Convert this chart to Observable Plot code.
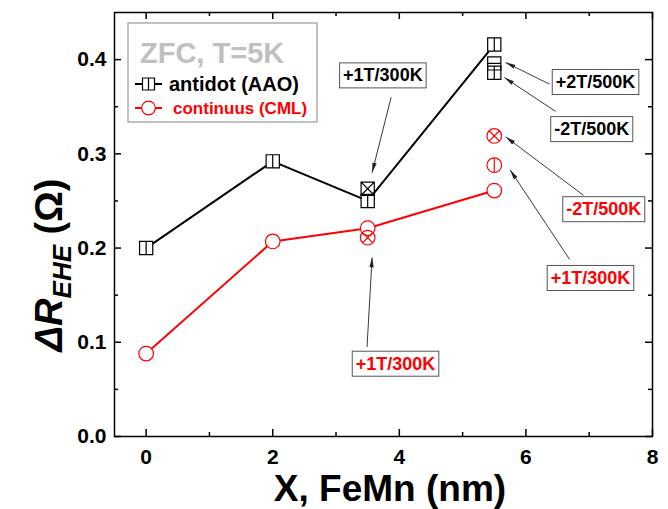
<!DOCTYPE html>
<html><head><meta charset="utf-8">
<script src="https://cdn.jsdelivr.net/npm/d3@7"></script>
<script src="https://cdn.jsdelivr.net/npm/@observablehq/plot@0.6"></script>
<style>body{margin:0;background:#fff}#chart{position:relative;width:668px;height:509px}</style>
</head><body><div id="chart"></div>
<script>
// ---- data ----
const thickness = [0, 2, 3.5, 5.5];
const antidot = [0.200, 0.292, 0.250, 0.416];
const continuus = [0.088, 0.207, 0.221, 0.261];

const extraThickness = [3.5, 5.5, 5.5, 3.5, 5.5, 5.5];
const extraValues = [0.263, 0.396, 0.386, 0.211, 0.288, 0.319];
const extraSeries = ["antidot", "antidot", "antidot", "continuus", "continuus", "continuus"];
const extraShape = ["squareX", "squareH", "squareV", "circleX", "circleV", "circleX"];

const annLabels = ["+1T/300K", "+2T/500K", "-2T/500K", "-2T/500K", "+1T/300K", "+1T/300K"];
const annSeries = ["antidot", "antidot", "antidot", "continuus", "continuus", "continuus"];
const annX = [3.74, 7.10, 7.04, 7.23, 7.02, 3.94];
const annY = [0.383, 0.376, 0.326, 0.241, 0.168, 0.077];

const arrowX1 = [3.87, 6.37, 6.47, 6.91, 6.69, 3.49];
const arrowY1 = [0.360, 0.374, 0.345, 0.256, 0.188, 0.095];
const arrowX2 = [3.57, 5.68, 5.66, 5.68, 5.75, 3.57];
const arrowY2 = [0.280, 0.397, 0.381, 0.318, 0.283, 0.190];

const xTicks = [0, 2, 4, 6, 8];
const xMinor = [1, 3, 5, 7];
const yTicks = [0, 0.1, 0.2, 0.3, 0.4];
const yMinor = [0.05, 0.15, 0.25, 0.35];

const seriesColor = {antidot: "#000000", continuus: "#ff0000"};

// ---- symbols ----
const rad = s => Math.sqrt(s / Math.PI);
function sq(c, r) { c.moveTo(-r, -r); c.lineTo(r, -r); c.lineTo(r, r); c.lineTo(-r, r); c.closePath(); }
function ci(c, r) { c.moveTo(r, 0); c.arc(0, 0, r, 0, 2 * Math.PI); c.closePath(); }
const shapes = {
  squareV: {draw(c, s) { const r = rad(s); sq(c, r); c.moveTo(0, -r); c.lineTo(0, r); }},
  squareH: {draw(c, s) { const r = rad(s); sq(c, r); c.moveTo(-r, 0); c.lineTo(r, 0); }},
  squareX: {draw(c, s) { const r = rad(s); sq(c, r); c.moveTo(-r, -r); c.lineTo(r, r); c.moveTo(-r, r); c.lineTo(r, -r); }},
  circle: {draw(c, s) { const r = rad(s); ci(c, r); }},
  circleV: {draw(c, s) { const r = rad(s); ci(c, r); c.moveTo(0, -r); c.lineTo(0, r); }},
  circleX: {draw(c, s) { const r = rad(s); ci(c, r); const d = r / Math.SQRT2; c.moveTo(-d, -d); c.lineTo(d, d); c.moveTo(-d, d); c.lineTo(d, -d); }}
};

// ---- tables ----
const mainA = thickness.map((x, i) => ({x, y: antidot[i]}));
const mainC = thickness.map((x, i) => ({x, y: continuus[i]}));
const extras = extraThickness.map((x, i) => ({x, y: extraValues[i], series: extraSeries[i], shape: extraShape[i]}));
const anns = annLabels.map((t, i) => ({text: t, series: annSeries[i], x: annX[i], y: annY[i]}));
const arrows = arrowX1.map((x1, i) => ({x1, y1: arrowY1[i], x2: arrowX2[i], y2: arrowY2[i]}));

function filledArrow(color) {
  const m = d3.create("svg:marker")
    .attr("viewBox", "-5 -5 10 10").attr("markerWidth", 10).attr("markerHeight", 10)
    .attr("orient", "auto").attr("markerUnits", "userSpaceOnUse").attr("refX", 5).attr("refY", 0);
  m.append("path").attr("d", "M-5,-2.2L5,0L-5,2.2Z").attr("fill", color).attr("stroke", "none");
  return m.node();
}

const W = 668, H = 509, ML = 114, MR = 16, MT = 12, MB = 73;
const PW = W - ML - MR, PH = H - MT - MB;

const marks = [
  Plot.frame({stroke: "black", strokeWidth: 1.5}),
  // inward ticks on all four sides
  Plot.tickX(xTicks, {x: d => d, insetTop: PH - 7, stroke: "black", strokeWidth: 1.5}),
  Plot.tickX(xTicks, {x: d => d, insetBottom: PH - 7, stroke: "black", strokeWidth: 1.5}),
  Plot.tickX(xMinor, {x: d => d, insetTop: PH - 4, stroke: "black", strokeWidth: 1.5}),
  Plot.tickX(xMinor, {x: d => d, insetBottom: PH - 4, stroke: "black", strokeWidth: 1.5}),
  Plot.tickY(yTicks, {y: d => d, insetRight: PW - 7, stroke: "black", strokeWidth: 1.5}),
  Plot.tickY(yTicks, {y: d => d, insetLeft: PW - 7, stroke: "black", strokeWidth: 1.5}),
  Plot.tickY(yMinor, {y: d => d, insetRight: PW - 4, stroke: "black", strokeWidth: 1.5}),
  Plot.tickY(yMinor, {y: d => d, insetLeft: PW - 4, stroke: "black", strokeWidth: 1.5}),
  Plot.axisX(xTicks, {tickSize: 0, tickPadding: 13, fontSize: 21, fontWeight: "bold", label: null, tickFormat: d => String(d)}),
  Plot.axisY(yTicks, {tickSize: 0, tickPadding: 8, fontSize: 21, fontWeight: "bold", label: null, tickFormat: d3.format(".1f")}),
  Plot.line(mainA, {x: "x", y: "y", stroke: seriesColor.antidot, strokeWidth: 2}),
  Plot.line(mainC, {x: "x", y: "y", stroke: seriesColor.continuus, strokeWidth: 2}),
  Plot.dot(mainA, {x: "x", y: "y", symbol: shapes.squareV, r: 6.6, stroke: seriesColor.antidot, fill: "white", strokeWidth: 1.2}),
  Plot.dot(mainC, {x: "x", y: "y", symbol: shapes.circle, r: 7.3, stroke: seriesColor.continuus, fill: "white", strokeWidth: 1.2})
];
for (const name of Object.keys(shapes)) {
  for (const s of ["antidot", "continuus"]) {
    const sub = extras.filter(d => d.shape === name && d.series === s);
    if (sub.length) marks.push(Plot.dot(sub, {x: "x", y: "y", symbol: shapes[name], r: s === "antidot" ? 6.6 : 7.3, stroke: seriesColor[s], fill: "none", strokeWidth: 1.2}));
  }
}
marks.push(Plot.link(arrows, {x1: "x1", y1: "y1", x2: "x2", y2: "y2", stroke: "#222", strokeWidth: 0.9, markerEnd: filledArrow}));
for (const s of ["antidot", "continuus"]) {
  marks.push(Plot.text(anns.filter(d => d.series === s), {x: "x", y: "y", text: "text", fill: seriesColor[s], fontSize: 18, fontWeight: "bold", lineAnchor: "middle", ariaDescription: "annot"}));
}

const plot = Plot.plot({
  width: W, height: H,
  marginLeft: ML, marginRight: MR, marginTop: MT, marginBottom: MB,
  style: {fontFamily: "'Liberation Sans', Arial, sans-serif", fontSize: "21px", fontWeight: "bold", background: "white", color: "black"},
  x: {domain: [-0.5, 8], axis: null},
  y: {domain: [0, 0.45], axis: null},
  marks
});
const chart = document.getElementById("chart");
chart.appendChild(plot);

const svg = d3.select(plot);
// boxes behind annotation texts
const annTexts = svg.selectAll("text").filter(function () {
  const g = this.parentNode;
  return g && (g.getAttribute("aria-description") === "annot" || g.getAttribute("aria-label") === "text");
});
annTexts.each(function () {
  const b = this.getBBox();
  const px = 3.5, py = 2.5;
  const r = document.createElementNS("http://www.w3.org/2000/svg", "rect");
  r.setAttribute("x", b.x - px); r.setAttribute("y", b.y - py);
  r.setAttribute("width", b.width + 2 * px); r.setAttribute("height", b.height + 2 * py);
  r.setAttribute("fill", "white"); r.setAttribute("stroke", "#555"); r.setAttribute("stroke-width", 1);
  const t = this.getAttribute("transform"); if (t) r.setAttribute("transform", t);
  this.parentNode.insertBefore(r, this);
});

// axis titles
const font = "'Liberation Sans', Arial, sans-serif";
svg.append("text").attr("x", 390).attr("y", 501).attr("text-anchor", "middle")
  .attr("font-family", font).attr("font-size", 37).attr("font-weight", "bold").attr("fill", "black")
  .text("X, FeMn (nm)");
const yl = svg.append("text").attr("transform", "translate(62,265) rotate(-90)").attr("text-anchor", "middle")
  .attr("font-family", font).attr("font-size", 38).attr("font-weight", "bold").attr("fill", "black");
yl.append("tspan").attr("font-style", "italic").text("ΔR");
yl.append("tspan").attr("font-style", "italic").attr("font-size", 26).attr("dy", 9).text("EHE");
yl.append("tspan").attr("dy", -9).text(" (Ω)");

// legend
const lg = svg.append("g").attr("text-anchor", "start");
lg.append("rect").attr("x", 128).attr("y", 23).attr("width", 189).attr("height", 99)
  .attr("fill", "white").attr("stroke", "#999").attr("stroke-width", 1.2);
lg.append("text").attr("x", 140).attr("y", 63).attr("text-anchor", "start").attr("font-family", font).attr("font-size", 29)
  .attr("font-weight", "bold").attr("fill", "#c0c0c0").text("ZFC, T=5K");
const rows = [
  {y: 84, base: 91, color: seriesColor.antidot, shape: shapes.squareV, r: 6, text: "antidot (AAO)", tx: 169, fs: 20},
  {y: 108, base: 114, color: seriesColor.continuus, shape: shapes.circle, r: 6.8, text: "continuus (CML)", tx: 173, fs: 17}
];
for (const row of rows) {
  lg.append("line").attr("x1", 135).attr("x2", 162).attr("y1", row.y).attr("y2", row.y)
    .attr("stroke", row.color).attr("stroke-width", 2);
  lg.append("path").attr("transform", `translate(148.5,${row.y})`)
    .attr("d", d3.symbol(row.shape, row.r * row.r * Math.PI)())
    .attr("fill", "white").attr("stroke", row.color).attr("stroke-width", 1.2);
  lg.append("text").attr("x", row.tx).attr("y", row.base).attr("text-anchor", "start").attr("font-family", font).attr("font-size", row.fs)
    .attr("font-weight", "bold").attr("fill", row.color).text(row.text);
}
</script>
</body></html>
